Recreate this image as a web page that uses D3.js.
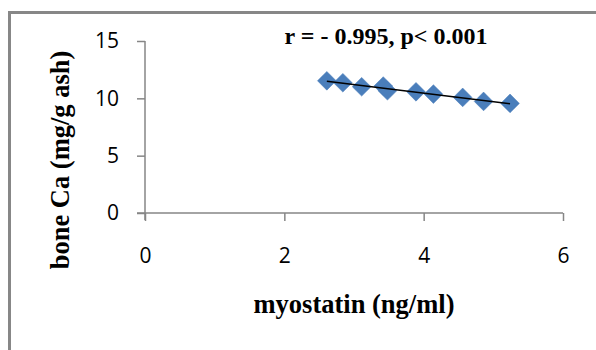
<!DOCTYPE html>
<html>
<head>
<meta charset="utf-8">
<script src="https://cdn.jsdelivr.net/npm/d3@7"></script>
<style>
  html, body { margin: 0; padding: 0; background: #fff; }
  svg { display: block; }
</style>
</head>
<body>
<div id="chart"></div>
<script>
// data
const myostatin = [2.61, 2.84, 3.11, 3.42, 3.48, 3.89, 4.14, 4.56, 4.86, 5.24];
const boneCa = [11.53, 11.36, 11.01, 11.07, 10.66, 10.57, 10.37, 10.08, 9.73, 9.56];
const xTicks = [0, 2, 4, 6];
const yTicks = [0, 5, 10, 15];
const titleText = 'r = - 0.995, p< 0.001';
const xLabel = 'myostatin (ng/ml)';
const yLabel = 'bone Ca (mg/g ash)';

const width = 596, height = 350;
const margin = { top: 41, right: 33, bottom: 137, left: 145 };

const svg = d3.select('#chart').append('svg')
  .attr('width', width)
  .attr('height', height);

// outer chart frame (runs off the right and bottom edges)
svg.append('rect')
  .attr('x', 9.5).attr('y', 12.5)
  .attr('width', 620).attr('height', 400)
  .attr('fill', 'none')
  .attr('stroke', '#878787')
  .attr('stroke-width', 3);

const x = d3.scaleLinear().domain([0, 6]).range([margin.left, width - margin.right]);
const y = d3.scaleLinear().domain([0, 15]).range([height - margin.bottom, margin.top]);

const axisColor = '#868686';
const tickFont = "'Open Sans', sans-serif";

// y axis
const gy = svg.append('g')
  .attr('transform', `translate(${margin.left},0)`)
  .call(d3.axisLeft(y).tickValues(yTicks).tickFormat(d3.format('d')).tickSize(8).tickPadding(18));
gy.select('.domain').attr('stroke', axisColor).attr('stroke-width', 1.5)
  .attr('d', `M0,${y(15)}V${y(0) + 7}`);

// x axis
const gx = svg.append('g')
  .attr('transform', `translate(0,${y(0)})`)
  .call(d3.axisBottom(x).tickValues(xTicks).tickFormat(d3.format('d')).tickSize(8).tickPadding(27));
gx.select('.domain').attr('stroke', axisColor).attr('stroke-width', 1.5)
  .attr('d', `M${x(0) - 8},0H${x(6)}`);

svg.selectAll('.tick line').attr('stroke', axisColor).attr('stroke-width', 1.5);
svg.selectAll('.tick text')
  .style('font-family', tickFont)
  .style('font-size', '21px')
  .style('fill', '#000');

// trend line (least squares fit of the points)
const mx = d3.mean(myostatin), my = d3.mean(boneCa);
const slope = d3.sum(myostatin, (v, i) => (v - mx) * (boneCa[i] - my)) /
  d3.sum(myostatin, v => (v - mx) * (v - mx));
const icpt = my - slope * mx;
const [x0, x1] = d3.extent(myostatin);

// markers
const pts = myostatin.map((v, i) => ({ x: v, y: boneCa[i] }));
svg.append('g').selectAll('path.pt')
  .data(pts)
  .join('path')
  .attr('class', 'pt')
  .attr('d', d3.symbol(d3.symbolSquare, 175))
  .attr('transform', d => `translate(${x(d.x)},${y(d.y)}) rotate(45)`)
  .attr('fill', '#4a7ebb')
  .attr('stroke', '#4a7ebb')
  .attr('stroke-width', 0.5);

svg.append('line')
  .attr('x1', x(x0)).attr('y1', y(icpt + slope * x0))
  .attr('x2', x(x1)).attr('y2', y(icpt + slope * x1))
  .attr('stroke', '#000')
  .attr('stroke-width', 1.6);

const serif = "'Liberation Serif', 'Times New Roman', serif";

svg.append('text')
  .attr('x', 386).attr('y', 44)
  .attr('text-anchor', 'middle')
  .style('font-family', serif)
  .style('font-weight', 'bold')
  .style('font-size', '24px')
  .text(titleText);

svg.append('text')
  .attr('x', 354).attr('y', 313)
  .attr('text-anchor', 'middle')
  .style('font-family', serif)
  .style('font-weight', 'bold')
  .style('font-size', '26.5px')
  .text(xLabel);

svg.append('text')
  .attr('transform', 'translate(69,160) rotate(-90)')
  .attr('text-anchor', 'middle')
  .style('font-family', serif)
  .style('font-weight', 'bold')
  .style('font-size', '26.5px')
  .text(yLabel);
</script>
</body>
</html>
